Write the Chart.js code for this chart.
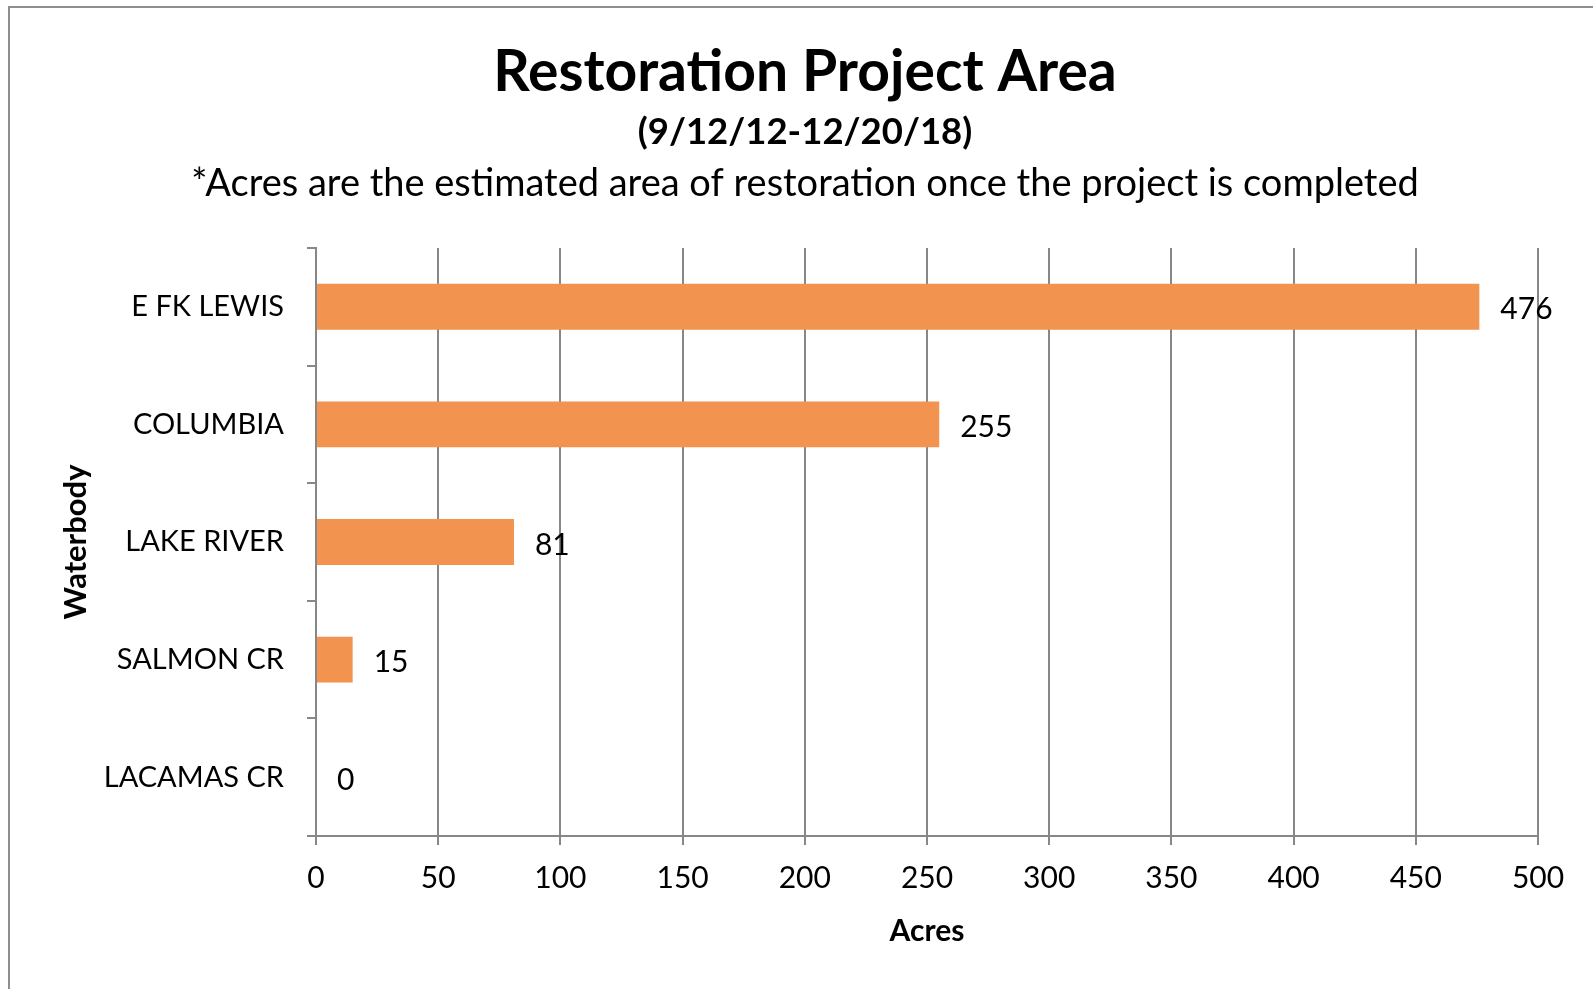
<!DOCTYPE html>
<html>
<head>
<meta charset="utf-8">
<title>Restoration Project Area</title>
<script src="https://cdn.jsdelivr.net/npm/chart.js@4/dist/chart.umd.min.js"></script>
<style>
    html, body { margin: 0; padding: 0; background: #fff; }
    #chart { display: block; }
</style>
</head>
<body>
<canvas id="chart" width="1593" height="989" style="width:1593px;height:989px"></canvas>
<script>
// Chart data
const waterbodies = ['E FK LEWIS', 'COLUMBIA', 'LAKE RIVER', 'SALMON CR', 'LACAMAS CR'];
const acres = [476, 255, 81, 15, 0];
const acreAxis = [0, 500, 50]; // min, max, step

const titleText = 'Restoration Project Area';
const subtitleText = '(9/12/12-12/20/18)';
const noteText = '*Acres are the estimated area of restoration once the project is completed';

const FONT = 'Lato, "Open Sans", sans-serif';
const GRID = '#878787';

// Headings and outer frame drawn on the canvas
const headings = {
    id: 'headings',
    beforeDraw(chart) {
        const ctx = chart.ctx;
        ctx.save();
        ctx.strokeStyle = '#8e8e8e';
        ctx.lineWidth = 2;
        ctx.strokeRect(9, 7, 2000, 2000);
        ctx.fillStyle = '#000';
        ctx.textAlign = 'center';
        ctx.textBaseline = 'alphabetic';
        ctx.font = 'bold 57px ' + FONT;
        ctx.fillText(titleText, 805, 91);
        ctx.font = 'bold 36.5px ' + FONT;
        ctx.fillText(subtitleText, 805, 144);
        ctx.font = '38px ' + FONT;
        ctx.fillText(noteText, 805, 196);
        ctx.restore();
    }
};

// Value labels at the end of each bar
const valueLabels = {
    id: 'valueLabels',
    afterDatasetsDraw(chart) {
        const ctx = chart.ctx;
        const meta = chart.getDatasetMeta(0);
        ctx.save();
        ctx.font = '30px ' + FONT;
        ctx.fillStyle = '#000';
        ctx.textAlign = 'left';
        ctx.textBaseline = 'middle';
        meta.data.forEach((bar, i) => {
            ctx.fillText(String(acres[i]), bar.x + 21, bar.y + 3);
        });
        ctx.restore();
    }
};

new Chart(document.getElementById('chart'), {
    type: 'bar',
    data: {
        labels: waterbodies,
        datasets: [{
            data: acres,
            backgroundColor: '#F2944F',
            borderWidth: 0,
            barPercentage: 0.39,
            categoryPercentage: 1
        }]
    },
    options: {
        indexAxis: 'y',
        responsive: false,
        animation: false,
        layout: { padding: { top: 248, right: 55, left: 10, bottom: 10 } },
        plugins: {
            legend: { display: false },
            tooltip: { enabled: false }
        },
        scales: {
            x: {
                min: acreAxis[0],
                max: acreAxis[1],
                ticks: {
                    stepSize: acreAxis[2],
                    color: '#000',
                    font: { family: FONT, size: 30 },
                    padding: 15
                },
                grid: { color: GRID, lineWidth: 2, tickLength: 9 },
                border: { color: GRID, width: 2 },
                title: {
                    display: true,
                    text: 'Acres',
                    color: '#000',
                    font: { family: FONT, size: 30, weight: 'bold' },
                    padding: { top: 0, bottom: 30 }
                },
                afterFit(scale) { scale.height = 989 - 836 - 10; }
            },
            y: {
                ticks: {
                    color: '#000',
                    font: { family: FONT, size: 29 },
                    padding: 23
                },
                grid: { color: GRID, lineWidth: 2, tickLength: 9, drawOnChartArea: false, offset: true },
                border: { color: GRID, width: 2 },
                title: {
                    display: true,
                    text: 'Waterbody',
                    color: '#000',
                    font: { family: FONT, size: 31, weight: 'bold' },
                    padding: { top: 47, bottom: 0 }
                },
                afterFit(scale) { scale.width = 316 - 10; }
            }
        }
    },
    plugins: [headings, valueLabels]
});
</script>
</body>
</html>
